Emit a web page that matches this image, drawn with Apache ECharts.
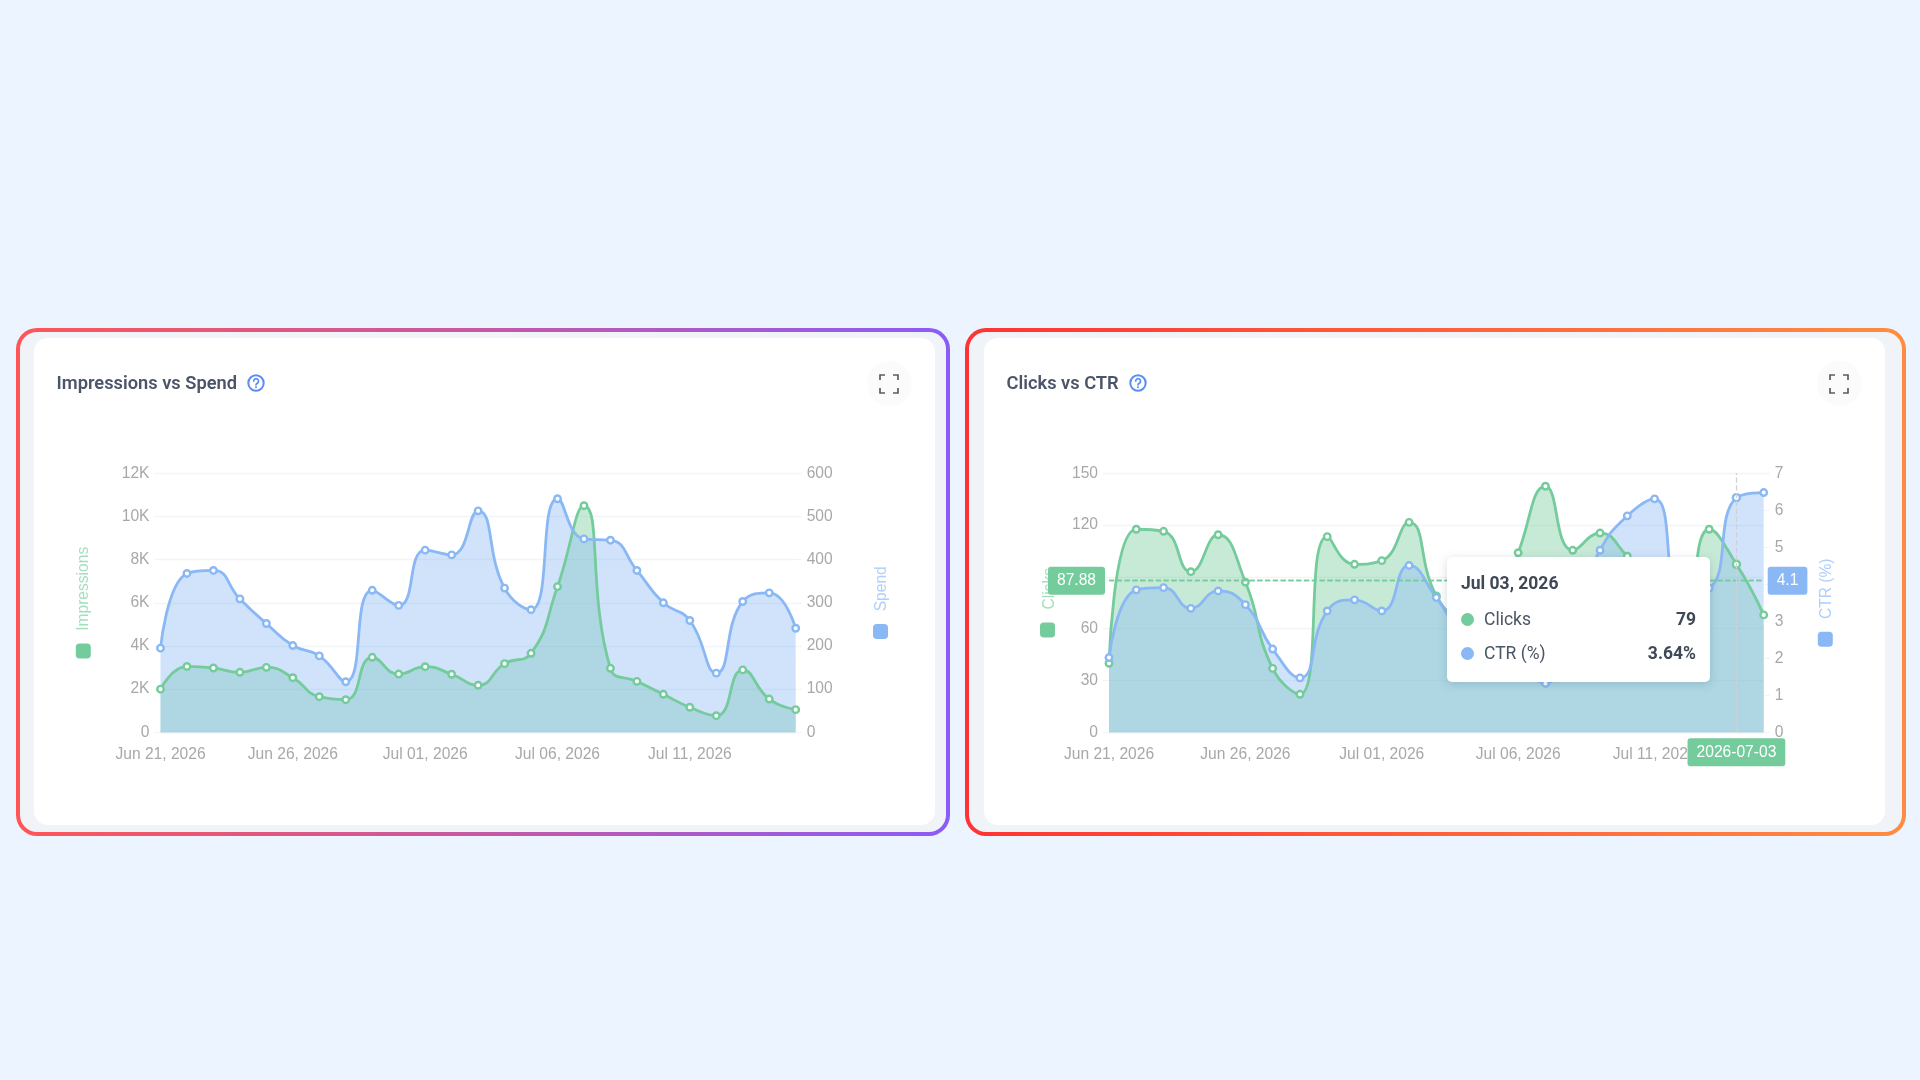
<!DOCTYPE html>
<html>
<head>
<meta charset="utf-8">
<title>Impressions vs Spend / Clicks vs CTR</title>
<script src="https://cdn.jsdelivr.net/npm/echarts@6/dist/echarts.min.js"></script>
<style>
html,body{margin:0;padding:0;width:1920px;height:1080px;overflow:hidden;background:#ecf5ff;font-family:Roboto,sans-serif}
.border{position:absolute;top:328px;height:508px;border-radius:21px;box-sizing:border-box;padding:4px}
.panel{width:100%;height:100%;border-radius:17px;background:#f0f4f9}
#b1{left:16px;width:934px;background:linear-gradient(90deg,#ff5555,#8b5cf6)}
#b2{left:965px;width:941px;background:linear-gradient(90deg,#ff3333,#ff8c42)}
.card{position:absolute;top:338px;height:487px;width:901px;background:#fff;border-radius:14px}
#c1{left:34px}#c2{left:984px}
.help{position:absolute;width:18px;height:18px;top:373.5px}
.fs{position:absolute;top:361px;width:45px;height:45px;border-radius:50%;background:#fbfbfb;display:flex;align-items:center;justify-content:center}
</style>
</head>
<body>
<div class="border" id="b1"><div class="panel"></div></div>
<div class="border" id="b2"><div class="panel"></div></div>
<div class="card" id="c1"></div>
<div class="card" id="c2"></div>
<svg class="help" style="left:247px" viewBox="0 0 18 18"><circle cx="9" cy="9" r="7.7" fill="none" stroke="#5b8ef5" stroke-width="2"/><path d="M6.7 7.1a2.4 2.4 0 1 1 3.6 2.1c-.9.5-1.3.9-1.3 1.8" fill="none" stroke="#5b8ef5" stroke-width="1.7" stroke-linecap="round"/><circle cx="9" cy="13.2" r="1" fill="#5b8ef5"/></svg>
<svg class="help" style="left:1129px" viewBox="0 0 18 18"><circle cx="9" cy="9" r="7.7" fill="none" stroke="#5b8ef5" stroke-width="2"/><path d="M6.7 7.1a2.4 2.4 0 1 1 3.6 2.1c-.9.5-1.3.9-1.3 1.8" fill="none" stroke="#5b8ef5" stroke-width="1.7" stroke-linecap="round"/><circle cx="9" cy="13.2" r="1" fill="#5b8ef5"/></svg>
<div class="fs" style="left:866.5px"><svg width="20" height="20" viewBox="0 0 20 20"><path d="M1 6V1H6M14 1H19V6M19 14V19H14M6 19H1V14" fill="none" stroke="#5a5f66" stroke-width="1.7"/></svg></div>
<div class="fs" style="left:1816.5px"><svg width="20" height="20" viewBox="0 0 20 20"><path d="M1 6V1H6M14 1H19V6M19 14V19H14M6 19H1V14" fill="none" stroke="#5a5f66" stroke-width="1.7"/></svg></div>
<script>
const dates = ['Jun 21, 2026','Jun 22, 2026','Jun 23, 2026','Jun 24, 2026','Jun 25, 2026','Jun 26, 2026','Jun 27, 2026','Jun 28, 2026','Jun 29, 2026','Jun 30, 2026','Jul 01, 2026','Jul 02, 2026','Jul 03, 2026','Jul 04, 2026','Jul 05, 2026','Jul 06, 2026','Jul 07, 2026','Jul 08, 2026','Jul 09, 2026','Jul 10, 2026','Jul 11, 2026','Jul 12, 2026','Jul 13, 2026','Jul 14, 2026','Jul 15, 2026'];
const impressions = [2000,3050,2980,2780,3010,2530,1650,1510,3475,2700,3040,2690,2180,3180,3660,6750,10500,2965,2360,1760,1160,770,2890,1540,1050];
const spend = [195,368,375,309,252,201,177,117,329,294,422,411,513,334,284,541,448,445,375,300,259,137,303,323,241];
const clicks = [40,117.6,116.4,93,114.4,87,37,22,113.3,97.3,99.4,121.6,79,65,62,104,142.5,105.4,115.4,102,85,62,117.6,97.3,68];
const ctr = [2.02,3.85,3.91,3.35,3.82,3.45,2.25,1.47,3.28,3.58,3.28,4.51,3.64,2.6,2.2,1.8,1.32,3.2,4.92,5.85,6.31,3.8,3.9,6.34,6.48];
const hoverIndex = 12;
const pointerDate = '2026-07-03';
const pointerClicks = '87.88';
const pointerCtr = '4.1';

const GREEN = '#74cb9b', BLUE = '#8ab8f5', GREEN_T = '#a3dfbd', BLUE_T = '#aecff9';
const TICK = '#a8a8a8', GRID = '#f1f4f8', FS = 15.6;
const FONT = '"Liberation Sans", Arial, sans-serif';

function mkSeries(name, data, color, yi) {
  return {
    name, type: 'line', data, yAxisIndex: yi, smooth: true, symbol: 'circle', symbolSize: 6.5,
    showSymbol: true, animation: false,
    lineStyle: {color, width: 2.8},
    itemStyle: {color: '#fff', borderColor: color, borderWidth: 2.4},
    areaStyle: {color, opacity: 0.4},
    emphasis: {disabled: true}
  };
}
function yAxis(name, color, max, interval, fmt, position, split, gap, pad) {
  return {
    type: 'value', name, position, min: 0, max, interval,
    nameLocation: 'middle', nameRotate: 90, nameGap: gap,
    nameTextStyle: {color, fontSize: FS, fontFamily: FONT, padding: pad},
    axisLine: {show: false},
    axisTick: {show: true, length: 6, lineStyle: {color: GRID, width: 1.3}},
    axisLabel: {color: TICK, fontSize: FS, fontFamily: FONT, margin: 11, padding: [2, 0, 0, 0], formatter: fmt},
    splitLine: {show: split, lineStyle: {color: GRID, width: 1.3}}
  };
}
function legendItem(name, pos, color) {
  return {data: [name], orient: 'vertical', left: pos[0], top: pos[1], padding: 0, itemWidth: 15, itemHeight: 15, icon: 'roundRect', formatter: () => '', selectedMode: false, textStyle: {fontSize: 1}, itemStyle: {color, borderWidth: 0}};
}
function base(title, gridLeft, gridRight, names, swatches, y0, y1) {
  return {
    animation: false,
    title: {text: title, left: 17.5, top: 32, textStyle: {fontFamily: 'Roboto', fontSize: 18.3, fontWeight: 600, color: '#4a5567'}},
    legend: [legendItem(names[0], swatches[0], GREEN), legendItem(names[1], swatches[1], BLUE)],
    grid: {left: gridLeft, right: gridRight, top: 135.3, bottom: 92.7},
    xAxis: {
      type: 'category', boundaryGap: false, data: dates,
      axisLine: {lineStyle: {color: '#e8edf3', width: 1.3}}, axisTick: {show: false},
      axisLabel: {color: TICK, fontSize: FS, fontFamily: FONT, margin: 14, interval: 4},
      splitLine: {show: false}
    },
    yAxis: [y0, y1]
  };
}

const chart1 = echarts.init(document.getElementById('c1'));
const opt1 = base('Impressions vs Spend', 126.5, 139.3, ['Impressions','Spend'], [[41.8,305.5],[839,286]],
  yAxis('Impressions', GREEN_T, 12000, 2000, v => v === 0 ? '0' : (v / 1000) + 'K', 'left', true, 69, [0,0,0,28]),
  yAxis('Spend', BLUE_T, 600, 100, v => v, 'right', false, 78, [0,0,0,28]));
opt1.series = [mkSeries('Impressions', impressions, GREEN, 0), mkSeries('Spend', spend, BLUE, 1)];
chart1.setOption(opt1);

const chart2 = echarts.init(document.getElementById('c2'));
const opt2 = base('Clicks vs CTR', 125, 121.3, ['Clicks','CTR (%)'], [[56,284.5],[833.8,293.8]],
  yAxis('Clicks', GREEN_T, 150, 30, v => v, 'left', true, 51, [0,0,0,28]),
  yAxis('CTR (%)', BLUE_T, 7, 1, v => v, 'right', false, 55, [0,0,0,28]));
opt2.series = [mkSeries('Clicks', clicks, GREEN, 0), mkSeries('CTR (%)', ctr, BLUE, 1)];
const pointerLabel = (bg, fmt, m) => ({show: true, backgroundColor: bg, color: '#fff', fontFamily: FONT, fontSize: FS, padding: [6, 9, 6, 9], borderRadius: 3, margin: m, shadowBlur: 0, formatter: fmt});
opt2.xAxis.axisPointer = {show: true, type: 'line', lineStyle: {color: '#cfcfd4', type: 'dashed', width: 1.3}, label: pointerLabel(GREEN, () => pointerDate, 6)};
opt2.yAxis[0].axisPointer = {show: true, type: 'line', lineStyle: {color: GREEN, type: 'dashed', width: 1.3}, label: pointerLabel(GREEN, () => pointerClicks, 4)};
opt2.yAxis[1].axisPointer = {show: true, type: 'line', lineStyle: {color: GREEN, type: 'dashed', width: 1.3}, label: pointerLabel(BLUE, () => pointerCtr, 4)};
const row = (c, n, v) => '<div style="display:flex;align-items:center;justify-content:space-between;height:34.5px">' +
  '<span style="display:flex;align-items:center"><i style="display:inline-block;width:13px;height:13px;border-radius:50%;background:' + c + ';margin-right:10px"></i>' +
  '<span style="color:#4b5563">' + n + '</span></span><b style="font-weight:700;color:#3f4856">' + v + '</b></div>';
opt2.tooltip = {
  trigger: 'axis', show: true, alwaysShowContent: true, triggerOn: 'none', transitionDuration: 0,
  axisPointer: {type: 'cross'},
  position: () => [462.7, 219.3],
  padding: 0, borderWidth: 0, backgroundColor: '#fff',
  extraCssText: 'width:263px;height:125px;box-sizing:border-box;padding:15px 14px 0 14px;border-radius:5px;box-shadow:0 2px 10px rgba(60,80,110,.22);font-family:Roboto,sans-serif;font-size:17.5px;line-height:1.2;',
  formatter: () => '<div style="font-weight:700;color:#3f4856;height:29px;line-height:22px;margin-bottom:1px">' + dates[hoverIndex] + '</div>' +
    row(GREEN, 'Clicks', clicks[hoverIndex]) + row(BLUE, 'CTR (%)', ctr[hoverIndex] + '%')
};
chart2.setOption(opt2);
chart2.dispatchAction({type: 'showTip', x: 752.4, y: 242.7});
</script>
</body>
</html>
